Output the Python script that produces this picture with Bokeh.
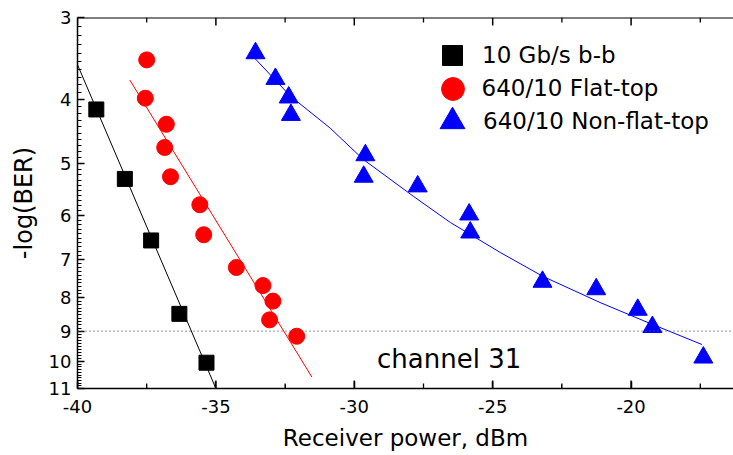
import numpy as np
from bokeh.plotting import figure
from bokeh.models import (Range1d, FixedTicker, Span, Label, Legend, LegendItem,
                          BasicTickFormatter)
from bokeh.embed import file_html
from bokeh.resources import INLINE

# ---- data (receiver power in dBm, -log(BER)) ----
bb_power = [-39.32, -38.29, -37.34, -36.32, -35.34]
bb_ber = [4.14, 5.28, 6.55, 8.47, 10.05]

ft_power = [-37.50, -37.55, -36.79, -36.85, -36.64, -35.58, -35.44, -34.26,
            -33.30, -32.94, -33.06, -32.08]
ft_ber = [3.48, 3.98, 4.36, 4.73, 5.24, 5.78, 6.42, 7.20, 7.67, 8.10, 8.65, 9.16]

nft_power = [-33.57, -32.85, -32.37, -32.29, -29.60, -29.66, -27.71, -25.85,
             -25.81, -23.20, -21.26, -19.76, -19.23, -17.39]
nft_ber = [3.40, 3.72, 3.97, 4.22, 4.86, 5.24, 5.42, 5.98, 6.37, 7.57, 7.77,
           8.35, 8.87, 9.87]

# fitted curves
bb_fit_power = [-40.0, -35.0]
bb_fit_ber = [3.54, 11.0]
ft_fit_power = [-38.11, -31.53]
ft_fit_ber = [3.735, 10.57]
nft_fit_power = [-33.57, -32.31, -30.87, -29.68, -27.87, -26.53, -24.73, -23.18,
                 -21.12, -19.31, -17.44]
nft_fit_ber = [3.47, 3.95, 4.42, 4.93, 5.61, 6.15, 6.83, 7.43, 8.14, 8.76, 9.43]

series_labels = ["10 Gb/s b-b", "640/10 Flat-top", "640/10 Non-flat-top"]
x_ticks = [-40, -35, -30, -25, -20]
x_tick_labels = ["-40", "-35", "-30", "-25", "-20"]
x_minor = [-37.5, -32.5, -27.5, -22.5, -17.5]
y_ticks = [3, 4, 5, 6, 7, 8, 9, 10, 11]
ber_limit = 9
annotation = "channel 31"

FONT = "DejaVu Sans"

Y_TOP, Y_BOTTOM = y_ticks[0], y_ticks[-1]
FRAME_H = 455 - 17 - 67
y_minor = [round(t + k / 10, 2) for t in y_ticks[:-1] for k in range(1, 10)]

p = figure(width=733, height=455, output_backend="svg", toolbar_location=None,
           x_range=Range1d(-40, -16.3), y_range=Range1d(Y_BOTTOM, Y_TOP),
           y_axis_type="log",
           min_border_left=77, min_border_right=0, min_border_top=17,
           min_border_bottom=67)
p.xgrid.visible = False
p.ygrid.visible = False
p.outline_line_color = None

# bottom axis
xa = p.xaxis[0]
xa.ticker = FixedTicker(ticks=x_ticks, minor_ticks=x_minor)
xa.major_label_overrides = dict(zip(x_ticks, x_tick_labels))
xa.axis_label = "Receiver power, dBm"
xa.major_tick_in = 7
xa.major_tick_out = 0
xa.minor_tick_in = 4
xa.minor_tick_out = 0
xa.axis_line_width = 1.5
xa.axis_line_color = "black"
xa.major_tick_line_width = 1.5
xa.major_label_text_font = FONT
xa.major_label_text_font_size = "18px"
xa.major_label_text_color = "black"
xa.major_label_standoff = 11
xa.axis_label_text_font = FONT
xa.axis_label_text_font_size = "23px"
xa.axis_label_text_font_style = "normal"
xa.axis_label_text_color = "black"
xa.axis_label_standoff = 9

# left axis
ya = p.yaxis[0]
ya.ticker = FixedTicker(ticks=y_ticks, minor_ticks=y_minor)
ya.formatter = BasicTickFormatter()
ya.axis_label = "-log(BER)"
ya.major_tick_in = 7
ya.major_tick_out = 0
ya.minor_tick_in = 4
ya.minor_tick_out = 0
ya.axis_line_width = 1.5
ya.axis_line_color = "black"
ya.major_tick_line_width = 1.5
ya.major_label_text_font = FONT
ya.major_label_text_font_size = "18px"
ya.major_label_text_color = "black"
ya.major_label_standoff = 6
ya.axis_label_text_font = FONT
ya.axis_label_text_font_size = "24px"
ya.axis_label_text_font_style = "normal"
ya.axis_label_text_color = "black"
ya.axis_label_standoff = 8

# top frame line and inward ticks on top/bottom edges (lengths in px -> log units)
dec_per_px = (np.log10(Y_BOTTOM) - np.log10(Y_TOP)) / FRAME_H
p.add_layout(Span(location=Y_TOP, dimension="width", line_color="black",
                  line_width=2))
for ticks, length, lw in [(x_ticks, 8, 1.5), (x_minor, 5, 1.3)]:
    n = len(ticks)
    f = 10 ** (length * dec_per_px)
    p.segment(x0=ticks, y0=[Y_TOP] * n, x1=ticks, y1=[Y_TOP * f] * n,
              line_color="black", line_width=lw)
    p.segment(x0=ticks, y0=[Y_BOTTOM] * n, x1=ticks, y1=[Y_BOTTOM / f] * n,
              line_color="black", line_width=lw)

# threshold line
p.add_layout(Span(location=ber_limit, dimension="width", line_color="#555555",
                  line_dash="1 3", line_width=1.3))

# fit lines
p.line(bb_fit_power, bb_fit_ber, line_color="black", line_width=1)
p.line(ft_fit_power, ft_fit_ber, line_color="#ff0000", line_width=1)
p.line(nft_fit_power, nft_fit_ber, line_color="#0000ff", line_width=1)

# markers
r1 = p.scatter(bb_power, bb_ber, marker="square", size=15, fill_color="black",
               line_color="black")
r2 = p.scatter(ft_power, ft_ber, marker="circle", size=16, fill_color="#ff0000",
               line_color="#ff0000")
r3 = p.scatter(nft_power, nft_ber, marker="triangle", size=19, fill_color="#0000ff",
               line_color="#0000ff")

# one legend box per entry so that rows sit close with large symbols
glyph_center_x = 375    # glyph centre, px from frame left
label_left_x = 405      # label start, px from frame left
row_centers = [38, 71, 104]   # px from frame top
glyph_boxes = [50, 57, 62]
for renderer, lab, cy, gw in zip([r1, r2, r3], series_labels, row_centers, glyph_boxes):
    leg = Legend(items=[LegendItem(label=lab, renderers=[renderer])],
                 location=(glyph_center_x - gw / 2, FRAME_H - cy - gw / 2),
                 glyph_width=gw, glyph_height=gw, spacing=0,
                 padding=0, margin=0,
                 label_standoff=max(0, int(label_left_x - glyph_center_x - gw / 2)),
                 label_height=20,
                 label_text_font=FONT, label_text_font_size="23px",
                 label_text_color="black",
                 background_fill_alpha=0, border_line_alpha=0)
    p.add_layout(leg)

p.add_layout(Label(x=-29.18, y=9.92, text=annotation, text_baseline="alphabetic",
                   text_font=FONT, text_font_size="26px", text_color="black"))

open("out.html", "w").write(file_html(p, INLINE))
